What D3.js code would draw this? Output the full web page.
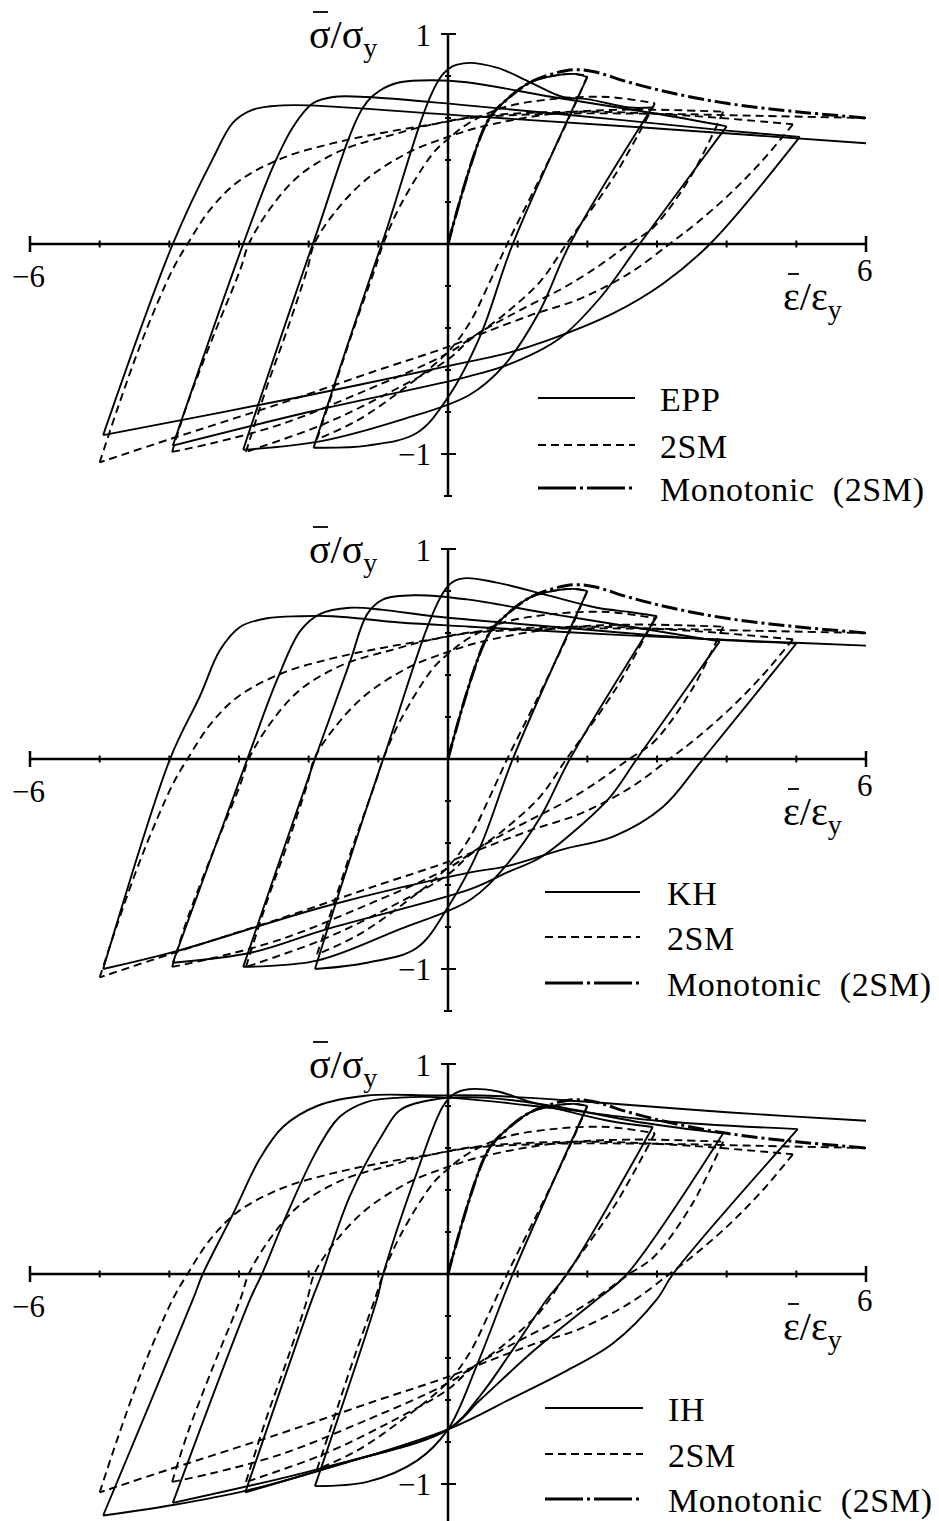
<!DOCTYPE html>
<html>
<head>
<meta charset="utf-8">
<script src="https://cdn.jsdelivr.net/npm/d3@7"></script>
<style>
  body { margin: 0; background: #fff; }
  svg { display: block; }
  .lbl { font-family: "Liberation Serif", "Times New Roman", serif; fill: #000; }
</style>
</head>
<body>
<script>
const W = 939, H = 1521;

//-----------------------------DATA------------------------------//
// strain / stress pairs (eps/eps_y, sigma/sigma_y)
const xTickVals = [-6, -5, -4, -3, -2, -1, 0, 1, 2, 3, 4, 5, 6];
const yTickVals = [-1.2, -1, -0.8, -0.6, -0.4, -0.2, 0, 0.2, 0.4, 0.6, 0.8, 1];

const monotonic = [[0,0],[0.56,0.58],[0.85,0.69],[1.18,0.77],[1.5,0.81],[1.8,0.83],[2.1,0.82],[2.6,0.77],[3.2,0.72],[4.0,0.67],[5.0,0.63],[6.0,0.6]];

// 2SM model, same in the three panels (branches between reversals)
const sm2 = [
  [[0,0],[0.56,0.58],[0.85,0.69],[1.18,0.77],[1.5,0.8],[1.8,0.81],[2.0,0.8]],
  [[2.0,0.8],[1.75,0.61],[1.42,0.38],[1.18,0.22],[0.85,0],[0.6,-0.18],[0.32,-0.37],[0.01,-0.51],[-0.6,-0.68],[-1.3,-0.84],[-1.88,-0.93]],
  [[-1.88,-0.93],[-1.65,-0.7],[-1.35,-0.4],[-1.05,-0.12],[-0.93,0],[-0.69,0.18],[-0.22,0.43],[0,0.5],[0.32,0.58],[0.8,0.65],[1.5,0.69],[2.3,0.7],[2.97,0.67]],
  [[2.97,0.67],[2.4,0.33],[1.7,0],[1.32,-0.18],[0.79,-0.34],[0.3,-0.46],[0,-0.55],[-0.8,-0.7],[-1.8,-0.86],[-2.9,-0.99]],
  [[-2.9,-0.99],[-2.6,-0.68],[-2.31,-0.41],[-2.02,-0.12],[-1.92,0],[-1.65,0.14],[-1.2,0.3],[-0.6,0.43],[0,0.51],[0.5,0.56],[1.5,0.62],[2.6,0.64],[3.95,0.63]],
  [[3.95,0.63],[3.5,0.33],[2.95,0.08],[2.6,0],[2.14,-0.11],[1.65,-0.21],[1.18,-0.29],[0.46,-0.42],[0,-0.52],[-1.2,-0.7],[-2.41,-0.86],[-3.4,-0.95],[-3.96,-0.99]],
  [[-3.96,-0.99],[-3.74,-0.76],[-3.37,-0.44],[-2.98,-0.12],[-2.86,0],[-2.55,0.17],[-2.12,0.33],[-1.5,0.45],[-0.8,0.52],[-0.22,0.57],[0.5,0.61],[2.0,0.63],[3.5,0.61],[4.95,0.57]],
  [[4.95,0.57],[4.52,0.4],[4.05,0.24],[3.57,0.1],[3.18,0],[2.6,-0.14],[1.9,-0.26],[1.18,-0.34],[0.46,-0.43],[0,-0.49],[-1.0,-0.6],[-2.41,-0.76],[-4.0,-0.93],[-5.0,-1.04]],
  [[-5.0,-1.04],[-4.75,-0.79],[-4.38,-0.45],[-3.95,-0.12],[-3.74,0],[-3.4,0.17],[-3.0,0.3],[-2.37,0.41],[-1.65,0.48],[-0.93,0.53],[-0.22,0.57],[0.32,0.6],[1.5,0.62],[3.0,0.62],[4.5,0.61],[6.0,0.6]]
];

const epp = [
  [[0,0],[0.56,0.58],[0.85,0.69],[1.18,0.77],[1.5,0.8],[1.8,0.81],[2.0,0.795]],
  [[2.0,0.795],[0.93,0],[0.46,-0.44],[0,-0.73],[-0.45,-0.9],[-1.16,-0.96],[-1.93,-0.97]],
  [[-1.93,-0.97],[-0.95,0],[-0.07,0.81],[0.22,0.86],[0.7,0.84],[1.18,0.77],[1.65,0.7],[2.0,0.69],[2.6,0.65],[2.93,0.65]],
  [[2.93,0.65],[1.75,0],[1.3,-0.33],[0.8,-0.58],[0.3,-0.72],[-0.7,-0.84],[-1.84,-0.94],[-2.94,-0.98]],
  [[-2.94,-0.98],[-1.94,0],[-1.22,0.65],[-0.98,0.73],[-0.69,0.77],[-0.22,0.78],[0.27,0.77],[1.5,0.7],[3.0,0.62],[4.0,0.56]],
  [[4.0,0.56],[2.75,0],[2.2,-0.25],[1.6,-0.45],[0.9,-0.57],[0.3,-0.63],[-2.0,-0.8],[-3.95,-0.96]],
  [[-3.95,-0.96],[-2.94,0],[-2.51,0.37],[-2.22,0.56],[-1.94,0.67],[-1.65,0.7],[-1.16,0.7],[0.27,0.66],[2.5,0.59],[4.0,0.54],[5.05,0.51]],
  [[5.05,0.51],[3.76,0],[3.08,-0.19],[2.37,-0.33],[1.42,-0.46],[0.85,-0.52],[0.3,-0.56],[-2.0,-0.72],[-4.95,-0.91]],
  [[-4.95,-0.91],[-3.95,0],[-3.37,0.41],[-3.08,0.58],[-2.8,0.64],[-2.37,0.66],[-1.98,0.66],[0.27,0.61],[3.0,0.55],[6.0,0.48]]
];

const kh = [
  [[0,0],[0.56,0.58],[0.85,0.69],[1.18,0.77],[1.5,0.8],[1.8,0.81],[2.0,0.8]],
  [[2.0,0.8],[0.93,0],[0.46,-0.42],[0.01,-0.7],[-0.45,-0.9],[-1.16,-0.97],[-1.91,-1.0]],
  [[-1.91,-1.0],[-0.93,0],[-0.01,0.82],[0.22,0.86],[0.7,0.84],[1.42,0.78],[2.14,0.72],[2.6,0.7],[3.0,0.68]],
  [[3.0,0.68],[1.75,0],[1.32,-0.28],[0.85,-0.5],[0.32,-0.67],[-0.69,-0.81],[-1.88,-0.96],[-2.94,-0.99]],
  [[-2.94,-0.99],[-1.91,0],[-1.41,0.46],[-1.16,0.69],[-0.93,0.76],[-0.45,0.78],[0.27,0.76],[1.5,0.69],[2.8,0.62],[3.9,0.56]],
  [[3.9,0.56],[2.71,0],[2.33,-0.18],[1.79,-0.35],[1.32,-0.47],[0.85,-0.54],[0.32,-0.62],[-1.74,-0.81],[-2.8,-0.92],[-3.95,-0.97]],
  [[-3.95,-0.97],[-2.88,0],[-2.45,0.38],[-2.12,0.61],[-1.84,0.69],[-1.41,0.72],[-0.93,0.71],[-0.22,0.68],[1.5,0.63],[3.3,0.58],[5.0,0.55]],
  [[5.0,0.55],[3.66,0],[3.08,-0.23],[2.37,-0.37],[1.65,-0.43],[0.85,-0.51],[0.32,-0.54],[-1.74,-0.7],[-3.95,-0.92],[-4.95,-1.0]],
  [[-4.95,-1.0],[-3.99,0],[-3.56,0.3],[-3.27,0.52],[-2.98,0.63],[-2.6,0.67],[-2.12,0.68],[-1.65,0.68],[-0.69,0.65],[0.32,0.63],[2.5,0.59],[4.5,0.56],[6.0,0.54]]
];

const ih = [
  [[0,0],[0.56,0.58],[0.85,0.69],[1.18,0.77],[1.5,0.8],[1.8,0.81],[2.0,0.8]],
  [[2.0,0.8],[0.93,0],[0.42,-0.43],[0,-0.74],[-0.45,-0.89],[-1.16,-0.99],[-1.91,-1.01]],
  [[-1.91,-1.01],[-1.02,-0.12],[-0.93,0],[-0.45,0.48],[-0.07,0.8],[0.1,0.86],[0.3,0.88],[0.7,0.87],[1.18,0.82],[1.65,0.78],[2.3,0.73],[2.94,0.7]],
  [[2.94,0.7],[1.71,0],[1.42,-0.12],[0.93,-0.36],[0.46,-0.58],[0,-0.74],[-1.5,-0.9],[-2.91,-1.04]],
  [[-2.91,-1.04],[-1.95,-0.12],[-1.81,0],[-1.41,0.37],[-0.93,0.67],[-0.69,0.78],[-0.22,0.83],[0.5,0.84],[1.5,0.8],[2.8,0.72],[3.95,0.67]],
  [[3.95,0.67],[2.57,0],[2.14,-0.12],[1.65,-0.25],[1.18,-0.38],[0.46,-0.6],[0,-0.74],[-1.88,-0.93],[-3.95,-1.09]],
  [[-3.95,-1.09],[-2.84,-0.12],[-2.67,0],[-2.37,0.24],[-1.88,0.59],[-1.55,0.75],[-1.16,0.82],[-0.69,0.84],[0,0.84],[1.5,0.79],[3.0,0.73],[5.02,0.69]],
  [[5.02,0.69],[3.23,0],[3.0,-0.12],[2.37,-0.33],[1.65,-0.47],[0.93,-0.59],[0,-0.74],[-1.88,-0.94],[-2.88,-1.03],[-3.95,-1.1],[-4.95,-1.15]],
  [[-4.95,-1.15],[-3.66,-0.12],[-3.52,0],[-3.08,0.29],[-2.7,0.55],[-2.37,0.7],[-1.88,0.8],[-1.16,0.85],[-0.22,0.85],[0.5,0.85],[2.0,0.82],[4.0,0.77],[6.0,0.73]]
];

const modelNames = ["EPP", "KH", "IH"];
const legendRest = ["2SM", "Monotonic  (2SM)"];

//----------------------------LAYOUT-----------------------------//
const panels = [
  { y0: 244, model: epp, legY: [398, 445, 488], legX: [538, 635, 660] },
  { y0: 759, model: kh,  legY: [892, 937, 983], legX: [545, 640, 667] },
  { y0: 1274, model: ih, legY: [1408, 1454, 1499], legX: [545, 643, 668] }
];

const svg = d3.select("body").append("svg")
  .attr("width", W).attr("height", H)
  .attr("viewBox", `0 0 ${W} ${H}`);
svg.append("rect").attr("width", W).attr("height", H).attr("fill", "#fff");

const x = d3.scaleLinear().domain([-6, 6]).range([30, 866]);

const solidStyle = { w: 1.9, dash: null };
const dashStyle = { w: 1.9, dash: "8,5" };
const monoStyle = { w: 3, dash: "16,4,3,4" };

panels.forEach(function(p, pi) {
  const y = d3.scaleLinear().domain([-1.2, 1]).range([p.y0 + 252, p.y0 - 210]);
  const g = svg.append("g");

  //-----------------------------AXES------------------------------//
  g.append("line").attr("x1", x(-6)).attr("x2", x(6)).attr("y1", y(0)).attr("y2", y(0))
    .attr("stroke", "#000").attr("stroke-width", 2.5);
  g.append("line").attr("x1", x(0)).attr("x2", x(0)).attr("y1", y(-1.2)).attr("y2", y(1))
    .attr("stroke", "#000").attr("stroke-width", 2.5);

  g.selectAll(".xt").data(xTickVals).enter().append("line")
    .attr("x1", d => x(d)).attr("x2", d => x(d))
    .attr("y1", d => y(0) - (Math.abs(d) === 6 ? 8 : 3.5))
    .attr("y2", d => y(0) + (Math.abs(d) === 6 ? 8 : 3.5))
    .attr("stroke", "#000").attr("stroke-width", d => Math.abs(d) === 6 ? 2.5 : 2);

  g.selectAll(".yt").data(yTickVals).enter().append("line")
    .attr("y1", d => y(d)).attr("y2", d => y(d))
    .attr("x1", d => x(0) - (Math.abs(d) === 1 ? 7 : (d === -1.2 ? 4 : 3)))
    .attr("x2", d => x(0) + (Math.abs(d) === 1 ? 8 : (d === -1.2 ? 4 : 3)))
    .attr("stroke", "#000").attr("stroke-width", 2);

  //----------------------------LINES------------------------------//
  const line = d3.line().curve(d3.curveCatmullRom.alpha(0.5))
    .x(d => x(d[0])).y(d => y(d[1]));

  function draw(branches, st) {
    g.append("g").selectAll("path").data(branches).enter().append("path")
      .attr("d", d => line(d))
      .attr("fill", "none").attr("stroke", "#000")
      .attr("stroke-width", st.w)
      .attr("stroke-dasharray", st.dash)
      .attr("stroke-linejoin", "round");
  }
  draw(sm2, dashStyle);
  draw(p.model, solidStyle);
  draw([monotonic], monoStyle);

  //----------------------------LABELS-----------------------------//
  const sl = g.append("text").attr("class", "lbl")
    .attr("x", 309).attr("y", p.y0 - 196).attr("font-size", 40);
  sl.append("tspan").text("σ/σ");
  sl.append("tspan").attr("font-size", 28).attr("dy", 9).text("y");
  g.append("line").attr("x1", 313).attr("x2", 328)
    .attr("y1", p.y0 - 232).attr("y2", p.y0 - 232)
    .attr("stroke", "#000").attr("stroke-width", 1.8);

  g.append("text").attr("class", "lbl").attr("x", 431).attr("y", p.y0 - 198)
    .attr("text-anchor", "end").attr("font-size", 31).text("1");
  g.append("text").attr("class", "lbl").attr("x", 12).attr("y", p.y0 + 43)
    .attr("font-size", 31).text("−6");
  g.append("text").attr("class", "lbl").attr("x", 431).attr("y", p.y0 + 221)
    .attr("text-anchor", "end").attr("font-size", 31).text("−1");
  g.append("text").attr("class", "lbl").attr("x", 857).attr("y", p.y0 + 37)
    .attr("font-size", 31).text("6");

  const el = g.append("text").attr("class", "lbl")
    .attr("x", 783).attr("y", p.y0 + 66).attr("font-size", 40);
  el.append("tspan").text("ε/ε");
  el.append("tspan").attr("font-size", 28).attr("dy", 9).text("y");
  g.append("line").attr("x1", 788).attr("x2", 799)
    .attr("y1", p.y0 + 30).attr("y2", p.y0 + 30)
    .attr("stroke", "#000").attr("stroke-width", 1.8);

  //----------------------------LEGEND-----------------------------//
  const names = [modelNames[pi]].concat(legendRest);
  const styles = [solidStyle, dashStyle, monoStyle];
  names.forEach(function(n, i) {
    g.append("line").attr("x1", p.legX[0]).attr("x2", p.legX[1])
      .attr("y1", p.legY[i]).attr("y2", p.legY[i])
      .attr("stroke", "#000").attr("stroke-width", styles[i].w)
      .attr("stroke-dasharray", i === 2 ? "38,4,3,4" : styles[i].dash);
    g.append("text").attr("class", "lbl").attr("x", p.legX[2])
      .attr("y", p.legY[i] + 13).attr("font-size", 34)
      .attr("letter-spacing", 0.6)
      .style("white-space", "pre").text(n);
  });
});
</script>
</body>
</html>
